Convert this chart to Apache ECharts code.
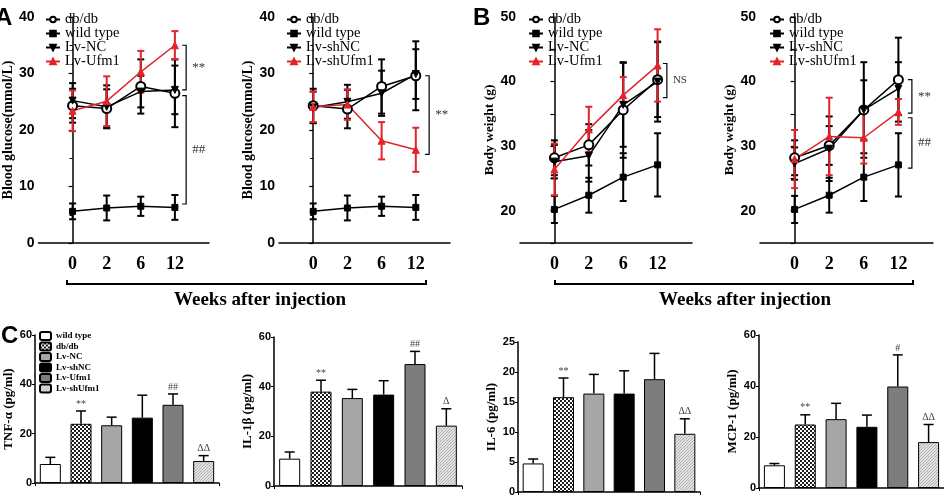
<!DOCTYPE html>
<html><head><meta charset="utf-8">
<script src="https://cdn.jsdelivr.net/npm/echarts@6/dist/echarts.min.js"></script>
<style>html,body{margin:0;padding:0;background:#fff}#c{width:944px;height:498px}</style>
</head><body><div id="c"></div>
<script>
// ---------- DATA ----------
const weeks = ['0', '2', '6', '12'];
// Panel A: blood glucose (mmol/L)
const glucoseWildType      = [5.6, 6.2, 6.5, 6.3];
const glucoseWildTypeErr   = [1.4, 2.2, 1.7, 2.2];
const glucoseDbdbA1        = [24.3, 23.8, 27.7, 26.5];
const glucoseDbdbA1Err     = [3.0, 3.4, 4.8, 6.0];
const glucoseLvNC          = [25.2, 24.1, 26.8, 27.1];
const glucoseLvNCErr       = [3.1, 3.8, 2.8, 4.3];
const glucoseLvUfm1        = [23.4, 25.1, 30.3, 35.0];
const glucoseLvUfm1Err     = [3.6, 4.4, 3.7, 2.5];
const glucoseDbdbA2        = [24.3, 23.7, 27.7, 29.6];
const glucoseDbdbA2Err     = [3.0, 3.4, 4.8, 6.1];
const glucoseLvShNC        = [24.0, 25.0, 26.5, 29.9];
const glucoseLvShNCErr     = [2.8, 3.0, 4.0, 4.4];
const glucoseLvShUfm1      = [24.1, 24.5, 18.1, 16.5];
const glucoseLvShUfm1Err   = [2.7, 2.7, 3.3, 3.9];
// Panel B: body weight (g)
const weightWildType       = [20.2, 22.4, 25.2, 27.1];
const weightWildTypeErr    = [2.1, 2.7, 3.7, 4.9];
const weightDbdbB1         = [28.2, 30.2, 35.6, 40.3];
const weightDbdbB1Err      = [2.7, 3.2, 7.4, 5.8];
const weightLvNC           = [27.6, 28.5, 36.4, 40.0];
const weightLvNCErr        = [2.6, 4.0, 6.5, 6.2];
const weightLvUfm1         = [26.4, 32.6, 37.9, 42.5];
const weightLvUfm1Err      = [4.0, 3.5, 2.8, 5.6];
const weightDbdbB2         = [28.2, 30.1, 35.6, 40.3];
const weightDbdbB2Err      = [2.7, 3.0, 7.4, 6.5];
const weightLvShNC         = [27.3, 29.6, 35.6, 38.9];
const weightLvShNCErr      = [2.5, 5.0, 4.6, 4.1];
const weightLvShUfm1       = [28.0, 31.5, 31.3, 35.3];
const weightLvShUfm1Err    = [4.5, 6.0, 4.0, 2.0];
// Panel C: cytokines (pg/ml)
const groups   = ['wild type', 'db/db', 'Lv-NC', 'Lv-shNC', 'Lv-Ufm1', 'Lv-shUfm1'];
const tnf      = [7.7, 24.0, 23.4, 26.5, 31.7, 8.9];
const tnfErr   = [2.7, 5.2, 3.3, 9.1, 4.4, 2.2];
const tnfSig   = ['', '**', '', '', '##', 'ΔΔ'];
const il1b     = [11.0, 38.0, 35.4, 36.8, 49.1, 24.3];
const il1bErr  = [2.7, 4.6, 3.5, 5.6, 5.1, 6.8];
const il1bSig  = ['', '**', '', '', '##', 'Δ'];
const il6      = [4.76, 15.8, 16.4, 16.4, 18.8, 9.7];
const il6Err   = [0.74, 3.2, 3.2, 3.8, 4.3, 2.5];
const il6Sig   = ['', '**', '', '', '', 'ΔΔ'];
const mcp1     = [8.9, 24.9, 27.0, 24.0, 39.8, 18.0];
const mcp1Err  = [0.7, 3.8, 6.2, 4.6, 12.4, 6.9];
const mcp1Sig  = ['', '**', '', '', '#', 'ΔΔ'];

// ---------- STYLE ----------
const RED = '#e3242b';
const SERIF = '"Liberation Serif","Times New Roman",serif';
const SANS = '"Liberation Sans",Arial,sans-serif';

function makePattern(w, h, draw) {
  const c = document.createElement('canvas'); c.width = w; c.height = h;
  draw(c.getContext('2d')); return c;
}
const checker = makePattern(4, 4, ctx => {
  ctx.fillStyle = '#ffffff'; ctx.fillRect(0, 0, 4, 4);
  ctx.fillStyle = '#1e1e1e'; ctx.fillRect(0, 0, 2, 2); ctx.fillRect(2, 2, 2, 2);
});
const dotted = makePattern(3, 3, ctx => {
  ctx.fillStyle = '#e2e2e2'; ctx.fillRect(0, 0, 3, 3);
  ctx.fillStyle = '#b0b0b0';
  ctx.fillRect(0, 2, 1, 1); ctx.fillRect(1, 1, 1, 1); ctx.fillRect(2, 0, 1, 1);
});
const barFills = ['#ffffff', {image: checker, repeat: 'repeat'}, '#a6a6a6', '#000000', '#7d7d7d', {image: dotted, repeat: 'repeat'}];

const kindStyle = {
  dbdb: {symbol: 'emptyCircle', symbolSize: 9, color: '#000', rotate: 0},
  wt:   {symbol: 'rect', symbolSize: 6, color: '#000', rotate: 0},
  nc:   {symbol: 'triangle', symbolSize: 7, color: '#000', rotate: 180},
  ufm:  {symbol: 'triangle', symbolSize: 7, color: RED, rotate: 0}
};

const linePanels = [
  {grid: {left: 37, top: 17, width: 172, height: 226}, yName: 'Blood glucose(mmol/L)', nameSize: 14, min: 0, max: 40, interval: 10, minor: true, legendLeft: 45,
   series: [['db/db', 'dbdb', glucoseDbdbA1, glucoseDbdbA1Err], ['wild type', 'wt', glucoseWildType, glucoseWildTypeErr],
            ['Lv-NC', 'nc', glucoseLvNC, glucoseLvNCErr], ['Lv-Ufm1', 'ufm', glucoseLvUfm1, glucoseLvUfm1Err]],
   brackets: [{x: 3.33, y1: 35.0, y2: 27.1, text: '**'}, {x: 3.33, y1: 26.1, y2: 6.9, text: '##'}]},
  {grid: {left: 279, top: 17, width: 171, height: 226}, yName: 'Blood glucose(mmol/L)', nameSize: 14, min: 0, max: 40, interval: 10, minor: true, legendLeft: 286,
   series: [['db/db', 'dbdb', glucoseDbdbA2, glucoseDbdbA2Err], ['wild type', 'wt', glucoseWildType, glucoseWildTypeErr],
            ['Lv-shNC', 'nc', glucoseLvShNC, glucoseLvShNCErr], ['Lv-shUfm1', 'ufm', glucoseLvShUfm1, glucoseLvShUfm1Err]],
   brackets: [{x: 3.39, y1: 29.6, y2: 15.7, text: '**'}]},
  {grid: {left: 520, top: 17, width: 172, height: 226}, yName: 'Body weight (g)', nameSize: 13.5, min: 15, max: 50, interval: 5, minor: false, legendLeft: 528,
   series: [['db/db', 'dbdb', weightDbdbB1, weightDbdbB1Err], ['wild type', 'wt', weightWildType, weightWildTypeErr],
            ['Lv-NC', 'nc', weightLvNC, weightLvNCErr], ['Lv-Ufm1', 'ufm', weightLvUfm1, weightLvUfm1Err]],
   brackets: [{x: 3.27, y1: 42.8, y2: 37.5, text: 'NS'}]},
  {grid: {left: 760, top: 17, width: 173, height: 226}, yName: 'Body weight (g)', nameSize: 13.5, min: 15, max: 50, interval: 5, minor: false, legendLeft: 769,
   series: [['db/db', 'dbdb', weightDbdbB2, weightDbdbB2Err], ['wild type', 'wt', weightWildType, weightWildTypeErr],
            ['Lv-shNC', 'nc', weightLvShNC, weightLvShNCErr], ['Lv-shUfm1', 'ufm', weightLvShUfm1, weightLvShUfm1Err]],
   brackets: [{x: 3.39, y1: 40.3, y2: 35.1, text: '**'}, {x: 3.39, y1: 34.4, y2: 26.6, text: '##'}]}
];

const barPanels = [
  {grid: {left: 35, top: 335, width: 184, height: 148}, yName: 'TNF-α (pg/ml)', max: 60, interval: 20, vals: tnf, errs: tnfErr, sig: tnfSig},
  {grid: {left: 274, top: 337, width: 188, height: 149}, yName: 'IL-1β (pg/ml)', max: 60, interval: 20, vals: il1b, errs: il1bErr, sig: il1bSig},
  {grid: {left: 518, top: 342, width: 182, height: 150}, yName: 'IL-6 (pg/ml)', max: 25, interval: 5, vals: il6, errs: il6Err, sig: il6Sig},
  {grid: {left: 759, top: 335, width: 185, height: 153}, yName: 'MCP-1 (pg/ml)', max: 60, interval: 20, vals: mcp1, errs: mcp1Err, sig: mcp1Sig}
];

const grids = [], xAxes = [], yAxes = [], series = [], legends = [];

function errBarRender(color, capHalf, lw) {
  return function (params, api) {
    const x = api.value(0), lo = api.value(1), hi = api.value(2);
    const a = api.coord([x, lo]), b = api.coord([x, hi]);
    const st = {stroke: color, lineWidth: lw};
    return {type: 'group', children: [
      {type: 'line', shape: {x1: a[0], y1: a[1], x2: b[0], y2: b[1]}, style: st},
      {type: 'line', shape: {x1: a[0] - capHalf, y1: a[1], x2: a[0] + capHalf, y2: a[1]}, style: st},
      {type: 'line', shape: {x1: b[0] - capHalf, y1: b[1], x2: b[0] + capHalf, y2: b[1]}, style: st}
    ]};
  };
}

linePanels.forEach((p, gi) => {
  grids.push(Object.assign({containLabel: false}, p.grid));
  xAxes.push({
    gridIndex: gi, type: 'value', min: -1, max: 4, interval: 1,
    axisLine: {show: true, onZero: false, lineStyle: {color: '#000', width: 1.5}},
    axisTick: {show: false}, splitLine: {show: false},
    axisLabel: {margin: 12, color: '#000', fontFamily: SERIF, fontWeight: 'bold', fontSize: 18,
      formatter: v => (weeks[v] !== undefined ? weeks[v] : '')}
  });
  yAxes.push({
    gridIndex: gi, type: 'value', min: p.min, max: p.max, interval: p.interval,
    name: p.yName, nameLocation: 'middle', nameGap: 22,
    nameTextStyle: {fontFamily: SERIF, fontWeight: 'bold', fontSize: p.nameSize, color: '#000'},
    axisLine: {show: true, lineStyle: {color: '#000', width: 1.5}},
    axisTick: {show: true, length: 4, lineStyle: {color: '#000', width: 1.2}},
    minorTick: {show: p.minor, splitNumber: 2, length: 3, lineStyle: {color: '#000', width: 1}},
    splitLine: {show: false},
    axisLabel: {margin: 4, color: '#000', fontFamily: SANS, fontWeight: 'bold', fontSize: 14,
      formatter: v => (v % 10 === 0 ? String(v) : '')}
  });
  p.series.forEach(([name, kind, vals, errs]) => {
    const ks = kindStyle[kind];
    series.push({
      type: 'custom', xAxisIndex: gi, yAxisIndex: gi, silent: true, z: 1,
      renderItem: errBarRender(ks.color, 3.5, 2),
      dimensions: ['x', 'lo', 'hi'], encode: {x: 0, y: [1, 2]},
      data: vals.map((v, i) => [i, v - errs[i], v + errs[i]])
    });
    series.push({
      type: 'line', name: name, xAxisIndex: gi, yAxisIndex: gi, z: 3,
      symbol: ks.symbol, symbolSize: ks.symbolSize, symbolRotate: ks.rotate, showSymbol: true,
      lineStyle: {color: ks.color, width: 1.5},
      itemStyle: {color: ks.color, borderColor: ks.color, borderWidth: kind === 'dbdb' ? 1.8 : 1},
      data: vals.map((v, i) => [i, v])
    });
  });
  // significance brackets
  series.push({
    type: 'custom', xAxisIndex: gi, yAxisIndex: gi, silent: true, z: 2,
    data: p.brackets.map((b, i) => [i]),
    encode: {x: -1, y: -1},
    renderItem: (params, api) => {
      const b = p.brackets[params.dataIndex];
      const t = api.coord([b.x, b.y1]), u = api.coord([b.x, b.y2]);
      const st = {stroke: '#000', lineWidth: 1.2, fill: null};
      return {type: 'group', children: [
        {type: 'polyline', shape: {points: [[t[0] - 4, t[1]], [t[0], t[1]], [u[0], u[1]], [u[0] - 4, u[1]]]}, style: st},
        {type: 'text', style: {text: b.text, x: t[0] + 6, y: (t[1] + u[1]) / 2, align: 'left', verticalAlign: 'middle',
          font: (b.text === 'NS' ? '11px ' : '13px ') + SERIF, fill: '#333'}}
      ]};
    }
  });
  legends.push({
    orient: 'vertical', left: p.legendLeft, top: 12, padding: 0, itemWidth: 14, itemHeight: 7, itemGap: -1,
    data: p.series.map(s => s[0]),
    textStyle: {fontFamily: SERIF, fontSize: 14.5, color: '#000'},
    selectedMode: false
  });
});

barPanels.forEach((p, k) => {
  const gi = linePanels.length + k;
  grids.push(Object.assign({containLabel: false}, p.grid));
  xAxes.push({
    gridIndex: gi, type: 'category', data: groups, boundaryGap: true,
    axisLine: {show: true, lineStyle: {color: '#000', width: 1.5}},
    axisTick: {show: true, length: 3, interval: (i) => i === 3, lineStyle: {color: '#000'}},
    axisLabel: {show: false}, splitLine: {show: false}
  });
  yAxes.push({
    gridIndex: gi, type: 'value', min: 0, max: p.max, interval: p.interval,
    name: p.yName, nameLocation: 'middle', nameGap: 20,
    nameTextStyle: {fontFamily: SERIF, fontWeight: 'bold', fontSize: 13, color: '#000'},
    axisLine: {show: true, lineStyle: {color: '#000', width: 1.5}},
    axisTick: {show: true, length: 3, lineStyle: {color: '#000'}},
    splitLine: {show: false},
    axisLabel: {margin: 3, color: '#000', fontFamily: SANS, fontWeight: 'bold', fontSize: 11}
  });
  groups.forEach((g, j) => {
    const arr = groups.map((_, i) => (i === j ? p.vals[i] : '-'));
    series.push({
      type: 'bar', name: 'C|' + g, xAxisIndex: gi, yAxisIndex: gi, barWidth: 21, barGap: '-100%', z: 2,
      itemStyle: {color: barFills[j], borderColor: '#000', borderWidth: 1},
      data: arr
    });
  });
  series.push({
    type: 'custom', xAxisIndex: gi, yAxisIndex: gi, silent: true, z: 3,
    dimensions: ['x', 'v', 'hi'], encode: {x: 0, y: [1, 2]},
    data: p.vals.map((v, i) => [i, v, v + p.errs[i]]),
    renderItem: (params, api) => {
      const i = params.dataIndex;
      const a = api.coord([i, api.value(1)]), b = api.coord([i, api.value(2)]);
      const st = {stroke: '#000', lineWidth: 1.5};
      return {type: 'group', children: [
        {type: 'line', shape: {x1: a[0], y1: a[1], x2: b[0], y2: b[1]}, style: st},
        {type: 'line', shape: {x1: b[0] - 5, y1: b[1], x2: b[0] + 5, y2: b[1]}, style: st},
        {type: 'text', style: {text: p.sig[i], x: b[0], y: b[1] - 2, align: 'center', verticalAlign: 'bottom',
          font: '10px ' + SERIF, fill: '#444'}}
      ]};
    }
  });
});

legends.push({
  orient: 'vertical', left: 39, top: 331, padding: 0, itemWidth: 11, itemHeight: 8, itemGap: 0.5,
  data: groups.map(g => 'C|' + g),
  formatter: n => n.split('|')[1],
  textStyle: {fontFamily: SERIF, fontWeight: 'bold', fontSize: 9, color: '#000'},
  selectedMode: false
});

const graphic = [
  {type: 'text', left: -5, top: 6, style: {text: 'A', font: 'bold 24px ' + SANS, fill: '#000'}},
  {type: 'text', left: 473, top: 6, style: {text: 'B', font: 'bold 24px ' + SANS, fill: '#000'}},
  {type: 'text', left: 1, top: 324, style: {text: 'C', font: 'bold 24px ' + SANS, fill: '#000'}},
  {type: 'polyline', shape: {points: [[67, 280], [67, 284], [426, 284], [426, 280]]}, style: {stroke: '#000', lineWidth: 2, fill: null}},
  {type: 'polyline', shape: {points: [[555, 280], [555, 284], [913, 284], [913, 280]]}, style: {stroke: '#000', lineWidth: 2, fill: null}},
  {type: 'text', x: 260, y: 300, style: {text: 'Weeks after injection', align: 'center', verticalAlign: 'middle', font: 'bold 19px ' + SERIF, fill: '#000'}},
  {type: 'text', x: 745, y: 300, style: {text: 'Weeks after injection', align: 'center', verticalAlign: 'middle', font: 'bold 19px ' + SERIF, fill: '#000'}}
];

const chart = echarts.init(document.getElementById('c'), null, {renderer: 'canvas'});
chart.setOption({
  animation: false,
  backgroundColor: '#fff',
  grid: grids, xAxis: xAxes, yAxis: yAxes, series: series, legend: legends, graphic: graphic
});
</script></body></html>
